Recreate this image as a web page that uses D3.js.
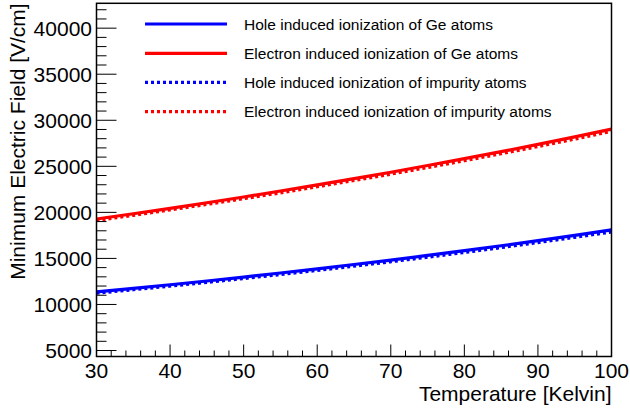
<!DOCTYPE html>
<html>
<head>
<meta charset="utf-8">
<script src="https://cdn.jsdelivr.net/npm/d3@7"></script>
<style>
  html, body { margin: 0; padding: 0; background: #fff; }
  svg { display: block; font-family: "Liberation Sans", Arial, sans-serif; }
</style>
</head>
<body>
<svg id="chart" width="630" height="409"></svg>
<script>
// ---- data ----
const temperature = [30, 35, 40, 45, 50, 55, 60, 65, 70, 75, 80, 85, 90, 95, 100];
const holeGe       = [11360, 11744, 12141, 12551, 12975, 13414, 13867, 14336, 14821, 15322, 15840, 16375, 16928, 17500, 18092];
const electronGe   = [19280, 19852, 20441, 21048, 21672, 22315, 22977, 23659, 24361, 25084, 25828, 26594, 27383, 28196, 29032];
const holeImp      = [11220, 11600, 11990, 12395, 12815, 13250, 13695, 14160, 14640, 15135, 15645, 16175, 16720, 17290, 17870];
const electronImp  = [19110, 19680, 20265, 20865, 21485, 22120, 22780, 23455, 24150, 24870, 25605, 26365, 27150, 27955, 28800];
const seriesNames  = ["Hole induced ionization of Ge atoms", "Electron induced ionization of Ge atoms",
                      "Hole induced ionization of impurity atoms", "Electron induced ionization of impurity atoms"];
const xTicks = [30, 40, 50, 60, 70, 80, 90, 100];
const yTicks = [5000, 10000, 15000, 20000, 25000, 30000, 35000, 40000];
const xTitle = "Temperature [Kelvin]";
const yTitle = "Minimum Electric Field [V/cm]";

const series = [
  { name: seriesNames[0], values: holeGe,      color: "#0000ff", dash: null },
  { name: seriesNames[1], values: electronGe,  color: "#ff0000", dash: null },
  { name: seriesNames[2], values: holeImp,     color: "#0000ff", dash: "3,3" },
  { name: seriesNames[3], values: electronImp, color: "#ff0000", dash: "3,3" }
];

// ---- layout ----
const L = 96.5, R = 611.5, T = 3.3, B = 356.5;
const svg = d3.select("#chart");
const x = d3.scaleLinear().domain([30, 100]).range([L, R]);
const y = d3.scaleLinear().domain([4350, 42700]).range([B, T]);

// curves
const clip = svg.append("clipPath").attr("id", "clip").append("rect")
  .attr("x", L).attr("y", T).attr("width", R - L).attr("height", B - T);
const line = d3.line().x((d, i) => x(temperature[i])).y(d => y(d)).curve(d3.curveMonotoneX);
const gCurves = svg.append("g").attr("clip-path", "url(#clip)");
[2, 3, 0, 1].forEach(k => {
  const s = series[k];
  gCurves.append("path").datum(s.values)
    .attr("d", line).attr("fill", "none")
    .attr("stroke", s.color).attr("stroke-width", 3.2)
    .attr("stroke-dasharray", s.dash);
});

// frame
svg.append("rect").attr("x", L).attr("y", T).attr("width", R - L).attr("height", B - T)
  .attr("fill", "none").attr("stroke", "#000").attr("stroke-width", 1.5);

// x ticks (inside)
const gx = svg.append("g");
d3.range(30, 100.001, 2).forEach(v => {
  const major = Math.abs(v % 10) < 1e-6;
  gx.append("line").attr("x1", x(v)).attr("x2", x(v))
    .attr("y1", B).attr("y2", B - (major ? 12 : 6))
    .attr("stroke", "#000").attr("stroke-width", 1);
});
xTicks.forEach(v => {
  gx.append("text").attr("x", x(v)).attr("y", 378).attr("text-anchor", "middle")
    .attr("font-size", 21).attr("fill", "#000").text(v);
});

// y ticks (inside)
const gy = svg.append("g");
d3.range(5000, 42001, 1000).forEach(v => {
  const major = v % 5000 === 0;
  gy.append("line").attr("x1", L).attr("x2", L + (major ? 20 : 10))
    .attr("y1", y(v)).attr("y2", y(v))
    .attr("stroke", "#000").attr("stroke-width", 1);
});
yTicks.forEach(v => {
  gy.append("text").attr("x", 92).attr("y", y(v) + 7.5).attr("text-anchor", "end")
    .attr("font-size", 21).attr("fill", "#000").text(v);
});

// axis titles
svg.append("text").attr("x", R).attr("y", 401).attr("text-anchor", "end")
  .attr("font-size", 21).attr("fill", "#000").text(xTitle);
svg.append("text").attr("transform", `translate(25,${T}) rotate(-90)`)
  .attr("text-anchor", "end").attr("font-size", 21).attr("fill", "#000").text(yTitle);

// legend
const legY = [24, 53.3, 82.3, 111.7];
const gl = svg.append("g");
series.forEach((s, i) => {
  gl.append("line").attr("x1", 145).attr("x2", 227)
    .attr("y1", legY[i]).attr("y2", legY[i])
    .attr("stroke", s.color).attr("stroke-width", 3.2)
    .attr("stroke-dasharray", s.dash);
  gl.append("text").attr("x", 244).attr("y", legY[i] + 5.5)
    .attr("font-size", 15.5).attr("fill", "#000").text(s.name);
});
</script>
</body>
</html>
